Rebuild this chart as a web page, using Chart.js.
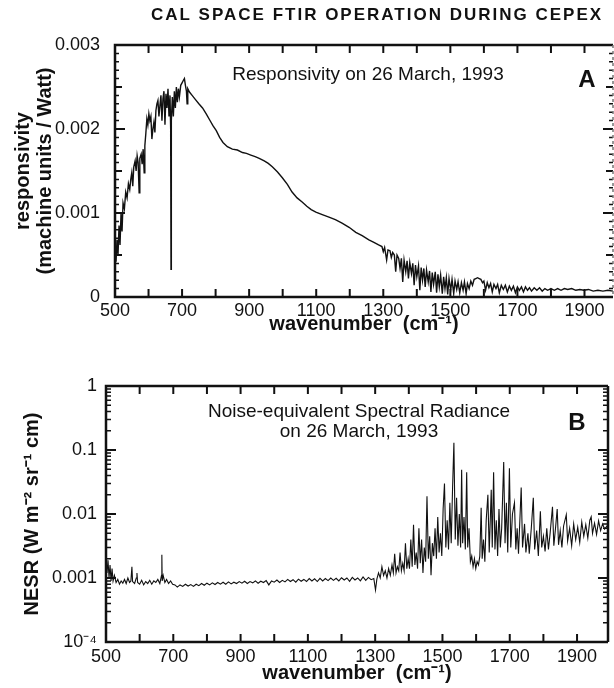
<!DOCTYPE html>
<html>
<head>
<meta charset="utf-8">
<title>CAL SPACE FTIR OPERATION DURING CEPEX</title>
<script src="https://cdn.jsdelivr.net/npm/chart.js@4.4.1/dist/chart.umd.min.js"></script>
<style>
  html, body { margin: 0; padding: 0; background: #fff; }
  canvas { display: block; }
</style>
</head>
<body>
<canvas id="chartA" width="614" height="340"></canvas>
<canvas id="chartB" width="614" height="348"></canvas>
<script>
// x axis: ticks every 100 cm-1, labels every 200
const xMajorTicks = [500, 600, 700, 800, 900, 1000, 1100, 1200, 1300, 1400, 1500, 1600, 1700, 1800, 1900];
const xLabelledTicks = [500, 700, 900, 1100, 1300, 1500, 1700, 1900];

// panel A tick labels
const yTicksA = [0, 0.001, 0.002, 0.003];
const yLabelsA = ['0', '0.001', '0.002', '0.003'];

// panel B tick labels (log axis)
const yTicksB = [0.0001, 0.001, 0.01, 0.1, 1];
const yLabelsB = ['10⁻⁴', '0.001', '0.01', '0.1', '1'];

// Panel A: responsivity
const respWavenumber = [
  500, 503, 506, 509, 512, 515, 518, 521, 524, 528,
  532, 536, 540, 544, 547, 550, 553, 556, 560, 563,
  566, 569, 572, 574, 578, 581, 584, 587, 589, 592,
  595, 598, 601, 604, 607, 610, 613, 616, 619, 622,
  625, 628, 631, 634, 637, 640, 643, 646, 649, 652,
  655, 658, 661, 664, 666, 667, 668, 671, 674, 677,
  680, 683, 686, 689, 692, 696, 700, 704, 707, 710,
  713, 715, 717, 722, 730, 740, 750, 761, 772, 782,
  792, 802, 812, 822, 835, 850, 865, 880, 892, 905,
  918, 930, 945, 957, 969, 984, 999, 1014, 1028, 1043,
  1058, 1072, 1085, 1099, 1118, 1138, 1157, 1177, 1198, 1218,
  1237, 1257, 1272, 1286, 1296, 1300, 1304, 1310, 1314, 1320,
  1324, 1328, 1333, 1337, 1341, 1346, 1350, 1354, 1358, 1362,
  1367, 1371, 1375, 1379, 1384, 1388, 1392, 1396, 1400, 1405,
  1409, 1413, 1417, 1421, 1425, 1429, 1434, 1438, 1442, 1446,
  1450, 1455, 1459, 1463, 1467, 1471, 1476, 1480, 1484, 1488,
  1492, 1496, 1501, 1505, 1510, 1514, 1519, 1523, 1528, 1533,
  1538, 1542, 1547, 1551, 1556, 1561, 1566, 1571, 1576, 1581,
  1586, 1591, 1596, 1600, 1605, 1610, 1615, 1620, 1625, 1630,
  1636, 1641, 1646, 1652, 1658, 1664, 1670, 1676, 1682, 1688,
  1694, 1700, 1706, 1712, 1718, 1724, 1730, 1736, 1742, 1750,
  1758, 1766, 1774, 1782, 1790, 1800, 1810, 1820, 1830, 1840,
  1850, 1862, 1874, 1886, 1898, 1912, 1926, 1940, 1955, 1970,
  1985
];
const responsivity = [
  0.00055, 0.00042, 0.00068, 0.00050, 0.00085, 0.00062, 0.00100, 0.00078, 0.00112, 0.00105,
  0.00125, 0.00118, 0.00135, 0.00128, 0.00140, 0.00148, 0.00132, 0.00155, 0.00162, 0.00150,
  0.00168, 0.00160, 0.00124, 0.00165, 0.00170, 0.00158, 0.00176, 0.00148, 0.00180, 0.00195,
  0.00212, 0.00205, 0.00218, 0.00210, 0.00215, 0.00188, 0.00200, 0.00208, 0.00196, 0.00222,
  0.00230, 0.00234, 0.00215, 0.00228, 0.00240, 0.00210, 0.00236, 0.00245, 0.00205, 0.00242,
  0.00225, 0.00248, 0.00215, 0.00240, 0.00200, 0.00033, 0.00210, 0.00238, 0.00215, 0.00245,
  0.00225, 0.00250, 0.00232, 0.00248, 0.00238, 0.00252, 0.00255, 0.00258, 0.00260, 0.00252,
  0.00245, 0.00230, 0.00248, 0.00244, 0.00240, 0.00235, 0.00230, 0.00225, 0.00218, 0.00211,
  0.00204, 0.00198, 0.00190, 0.00184, 0.00179, 0.00176, 0.00175, 0.00172, 0.00171, 0.00169,
  0.00167, 0.00165, 0.00162, 0.00159, 0.00155, 0.00149, 0.00142, 0.00134, 0.00125, 0.00118,
  0.00113, 0.00108, 0.00104, 0.00101, 0.00098, 0.00095, 0.00092, 0.00088, 0.00083, 0.00077,
  0.00073, 0.00068, 0.00065, 0.00062, 0.00060, 0.00054, 0.00059, 0.00044, 0.00056, 0.00055,
  0.00047, 0.00053, 0.00050, 0.00030, 0.00050, 0.00046, 0.00034, 0.00046, 0.00018, 0.00044,
  0.00030, 0.00043, 0.00022, 0.00041, 0.00028, 0.00040, 0.00014, 0.00038, 0.00024, 0.00037,
  0.00008, 0.00035, 0.00020, 0.00034, 0.00012, 0.00032, 0.00018, 0.00031, 0.00006, 0.00029,
  0.00015, 0.00030, 0.00005, 0.00027, 0.00012, 0.00026, 0.00004, 0.00024, 0.00010, 0.00023,
  0.00003, 0.00022, 0.00008, 0.00021, 0.00004, 0.00019, 0.00009, 0.00018, 0.00005, 0.00017,
  0.00008, 0.00018, 0.00004, 0.00016, 0.00010, 0.00019, 0.00014, 0.00021, 0.00022, 0.00023,
  0.00022, 0.00021, 0.00017, 0.00019, 0.00008, 0.00017, 0.00011, 0.00016, 0.00006, 0.00015,
  0.00010, 0.00015, 0.00005, 0.00014, 0.00009, 0.00014, 0.00006, 0.00013, 0.00008, 0.00013,
  0.00005, 0.00012, 0.00008, 0.00012, 0.00006, 0.00012, 0.00008, 0.00011, 0.00007, 0.00011,
  0.00008, 0.00011, 0.00007, 0.00010, 0.00008, 0.00010, 0.00008, 0.00010, 0.00008, 0.00010,
  0.00009, 0.00010, 0.00008, 0.00009, 0.00008, 0.00009, 0.00007, 0.00008, 0.00007, 0.00008,
  0.00007
];

// Panel B: noise-equivalent spectral radiance
const nesrWavenumber = [
  500, 503, 506, 509, 512, 515, 518, 521, 525, 530,
  535, 540, 545, 550, 555, 560, 565, 570, 574, 577,
  579, 585, 590, 592, 594, 600, 606, 612, 618, 624,
  630, 636, 642, 648, 654, 660, 665, 666, 667, 670,
  675, 680, 686, 692, 698, 705, 712, 720, 728, 736,
  744, 752, 760, 768, 776, 784, 792, 800, 808, 816,
  824, 832, 840, 848, 856, 864, 872, 880, 888, 896,
  904, 912, 920, 928, 936, 944, 952, 960, 968, 976,
  984, 992, 1000, 1008, 1016, 1024, 1032, 1040, 1048, 1056,
  1064, 1072, 1080, 1088, 1096, 1104, 1112, 1120, 1128, 1136,
  1144, 1152, 1160, 1168, 1176, 1184, 1192, 1200, 1208, 1216,
  1224, 1232, 1240, 1248, 1256, 1264, 1272, 1280, 1288, 1296,
  1301, 1305, 1310, 1315, 1320, 1325, 1330, 1335, 1340, 1345,
  1350, 1354, 1358, 1362, 1366, 1370, 1374, 1378, 1382, 1386,
  1390, 1394, 1398, 1402, 1406, 1410, 1414, 1418, 1422, 1426,
  1430, 1434, 1438, 1442, 1446, 1450, 1454, 1458, 1462, 1466,
  1470, 1474, 1478, 1482, 1486, 1490, 1494, 1498, 1502, 1506,
  1510, 1514, 1518, 1522, 1526, 1530, 1534, 1538, 1542, 1546,
  1550, 1554, 1557, 1560, 1564, 1568, 1572, 1575, 1579, 1583,
  1587, 1591, 1595, 1599, 1603, 1607, 1611, 1615, 1618, 1622,
  1626, 1630, 1635, 1639, 1645, 1648, 1652, 1656, 1660, 1664,
  1668, 1672, 1676, 1682, 1686, 1690, 1694, 1699, 1703, 1708,
  1714, 1718, 1722, 1726, 1734, 1738, 1744, 1748, 1754, 1758,
  1764, 1770, 1774, 1780, 1785, 1791, 1795, 1800, 1805, 1810,
  1815, 1820, 1827, 1831, 1836, 1841, 1845, 1850, 1855, 1860,
  1868, 1872, 1878, 1884, 1890, 1896, 1902, 1908, 1914, 1920,
  1926, 1932, 1938, 1942, 1946, 1952, 1958, 1964, 1970, 1976,
  1982, 1990
];
const nesr = [
  0.0020, 0.0012, 0.0019, 0.0010, 0.0016, 0.0009, 0.0014, 0.0009, 0.0011, 0.00085,
  0.00095, 0.0008, 0.0009, 0.00083, 0.00095, 0.00082, 0.0010, 0.00085, 0.0009, 0.0015,
  0.00088, 0.00082, 0.0010, 0.0012, 0.00085, 0.0008, 0.00092, 0.00078, 0.00088, 0.00082,
  0.00092, 0.0008, 0.0009, 0.00085, 0.00095, 0.00082, 0.0011, 0.0023, 0.0009, 0.0011,
  0.00085, 0.00095, 0.00082, 0.0009, 0.0008, 0.00078, 0.00072, 0.00078, 0.00074, 0.0008,
  0.00075, 0.00079, 0.00074, 0.0008, 0.00076, 0.00082, 0.00077, 0.00083, 0.00078, 0.00084,
  0.00079, 0.00085, 0.0008, 0.00086, 0.0008, 0.00087, 0.00081, 0.00086, 0.00082, 0.00088,
  0.00083, 0.00089, 0.00082, 0.00088, 0.00084, 0.0009, 0.00083, 0.00089, 0.00085, 0.00091,
  0.00078, 0.0009, 0.00086, 0.00093, 0.00085, 0.00092, 0.00087, 0.00095, 0.00088, 0.00094,
  0.00086, 0.00096, 0.00089, 0.00095, 0.00088, 0.00098, 0.0009, 0.00097, 0.00088, 0.00099,
  0.0009, 0.00098, 0.00091, 0.001, 0.00092, 0.00099, 0.0009, 0.00101, 0.00093, 0.001,
  0.00089, 0.00102, 0.00093, 0.001, 0.0009, 0.00104, 0.00092, 0.00102, 0.00094, 0.00098,
  0.00065, 0.00096, 0.0012, 0.001, 0.0015, 0.0011, 0.0013, 0.001, 0.0014, 0.0011,
  0.0016, 0.0012, 0.0024, 0.0012, 0.0015, 0.0013, 0.0025, 0.0013, 0.0017, 0.0013,
  0.0035, 0.0014, 0.0020, 0.0014, 0.0040, 0.0015, 0.0068, 0.0016, 0.0025, 0.0014,
  0.0060, 0.0017, 0.0040, 0.0012, 0.0030, 0.0018, 0.019, 0.0020, 0.0045, 0.0011,
  0.0035, 0.0022, 0.0060, 0.0020, 0.0090, 0.0025, 0.0050, 0.0022, 0.012, 0.030,
  0.0030, 0.0080, 0.0028, 0.015, 0.0035, 0.025, 0.13, 0.0040, 0.018, 0.0032,
  0.010, 0.0030, 0.049, 0.0035, 0.0090, 0.0028, 0.045, 0.0030, 0.0060, 0.0018,
  0.0022, 0.0015, 0.0020, 0.0014, 0.0018, 0.0016, 0.0022, 0.0125, 0.0020, 0.0040,
  0.0018, 0.0080, 0.020, 0.0025, 0.024, 0.0030, 0.045, 0.0028, 0.0080, 0.0022,
  0.012, 0.0030, 0.0060, 0.065, 0.0035, 0.015, 0.0025, 0.052, 0.0030, 0.010,
  0.015, 0.0028, 0.0060, 0.0024, 0.026, 0.0030, 0.0070, 0.0025, 0.0050, 0.0024,
  0.0060, 0.018, 0.0028, 0.0055, 0.0022, 0.011, 0.0030, 0.0045, 0.0026, 0.0060,
  0.0028, 0.0050, 0.013, 0.0032, 0.0060, 0.012, 0.0033, 0.0055, 0.0030, 0.0065,
  0.0097, 0.0038, 0.0060, 0.0032, 0.0070, 0.0040, 0.0062, 0.0036, 0.0075, 0.0045,
  0.0068, 0.0042, 0.0080, 0.0090, 0.0050, 0.0072, 0.0048, 0.0078, 0.0055, 0.0070,
  0.0058, 0.0066
];

Chart.defaults.font.family = "'Liberation Sans', Arial, Helvetica, sans-serif";
Chart.defaults.color = '#111';
Chart.defaults.animation = false;

// inward tick marks on all four sides + the box
function frameTicks(yMarks, rightDashed) {
  return {
    id: 'frameTicks',
    afterDraw(chart) {
      const { ctx, chartArea: a } = chart;
      const x = chart.scales.x;
      const y = chart.scales.y;
      ctx.save();
      ctx.strokeStyle = '#111';

      ctx.lineWidth = 2;
      ctx.beginPath();
      xMajorTicks.forEach(v => {
        const px = x.getPixelForValue(v);
        ctx.moveTo(px, a.bottom); ctx.lineTo(px, a.bottom - 8);
        ctx.moveTo(px, a.top); ctx.lineTo(px, a.top + 8);
      });
      yMarks.filter(m => m[1] >= 7).forEach(([v, len]) => {
        const py = y.getPixelForValue(v);
        ctx.moveTo(a.left, py); ctx.lineTo(a.left + len, py);
        ctx.moveTo(a.right, py); ctx.lineTo(a.right - len, py);
      });
      ctx.stroke();

      ctx.lineWidth = 1.5;
      ctx.beginPath();
      yMarks.filter(m => m[1] < 7).forEach(([v, len]) => {
        const py = y.getPixelForValue(v);
        ctx.moveTo(a.left, py); ctx.lineTo(a.left + len, py);
        ctx.moveTo(a.right, py); ctx.lineTo(a.right - len, py);
      });
      ctx.stroke();

      ctx.lineWidth = 2.5;
      ctx.beginPath();
      ctx.moveTo(a.right, a.top);
      ctx.lineTo(a.left, a.top);
      ctx.lineTo(a.left, a.bottom);
      ctx.lineTo(a.right, a.bottom);
      ctx.stroke();

      ctx.beginPath();
      if (rightDashed) {
        ctx.lineWidth = 1.5;
        ctx.strokeStyle = '#777';
        ctx.setLineDash([3, 3]);
      }
      ctx.moveTo(a.right, a.top);
      ctx.lineTo(a.right, a.bottom);
      ctx.stroke();
      ctx.restore();
    }
  };
}

// free text inside / above the panels
function panelText(items) {
  return {
    id: 'panelText',
    afterDraw(chart) {
      const ctx = chart.ctx;
      ctx.save();
      ctx.fillStyle = '#111';
      ctx.textBaseline = 'alphabetic';
      items.forEach(t => {
        ctx.font = t.font;
        ctx.textAlign = t.align || 'center';
        ctx.letterSpacing = t.spacing || '0px';
        ctx.fillText(t.text, t.x, t.y);
      });
      ctx.restore();
    }
  };
}

// tick mark lists (value, length)
const marksA = [];
for (let k = 0; k <= 30; k++) {
  marksA.push([k / 10000, k % 10 === 0 ? 10 : (k % 5 === 0 ? 7 : 4)]);
}
const marksB = [[1, 10]];
for (let d = -4; d < 0; d++) {
  for (let m = 1; m <= 9; m++) {
    marksB.push([m * Math.pow(10, d), m === 1 ? 10 : 5]);
  }
}

const tickFont = { size: 18 };
const titleFont = { size: 20, weight: 'bold', lineHeight: 1.1 };

function xScale(max, height, labelPad, titlePad) {
  return {
    type: 'linear',
    min: 500,
    max: max,
    afterBuildTicks: s => { s.ticks = xMajorTicks.map(v => ({ value: v })); },
    afterFit: s => { s.height = height; },
    grid: { display: false, drawTicks: false },
    border: { display: false },
    ticks: {
      autoSkip: false,
      maxRotation: 0,
      padding: labelPad,
      font: tickFont,
      callback: v => xLabelledTicks.includes(v) ? String(v) : ''
    },
    title: {
      display: true,
      text: 'wavenumber  (cm⁻¹)',
      font: titleFont,
      padding: { top: 0, bottom: titlePad }
    }
  };
}

new Chart(document.getElementById('chartA'), {
  type: 'line',
  data: {
    datasets: [{
      data: respWavenumber.map((w, i) => ({ x: w, y: responsivity[i] })),
      borderColor: '#111',
      borderWidth: 1.4,
      pointRadius: 0,
      tension: 0,
      fill: false
    }]
  },
  options: {
    responsive: false,
    layout: { padding: { top: 45, right: 1, left: 0, bottom: 0 } },
    plugins: { legend: { display: false }, tooltip: { enabled: false } },
    scales: {
      x: xScale(1985, 43, 3, 5),
      y: {
        min: 0,
        max: 0.003,
        afterBuildTicks: s => { s.ticks = yTicksA.map(v => ({ value: v })); },
        afterFit: s => { s.width = 115; },
        grid: { display: false, drawTicks: false },
        border: { display: false },
        ticks: { padding: 15, font: tickFont, callback: (v, i) => yLabelsA[i] },
        title: {
          display: true,
          text: ['responsivity', '(machine units / Watt)'],
          font: titleFont,
          padding: { top: 12, bottom: 0 }
        }
      }
    }
  },
  plugins: [
    frameTicks(marksA, true),
    panelText([
      { text: 'CAL SPACE FTIR OPERATION DURING CEPEX', x: 377, y: 20, font: 'bold 17px "Liberation Sans", Arial, sans-serif', spacing: '2px' },
      { text: 'Responsivity on 26 March, 1993', x: 368, y: 80, font: '19px "Liberation Sans", Arial, sans-serif' },
      { text: 'A', x: 587, y: 87, font: 'bold 24px "Liberation Sans", Arial, sans-serif' }
    ])
  ]
});

new Chart(document.getElementById('chartB'), {
  type: 'line',
  data: {
    datasets: [{
      data: nesrWavenumber.map((w, i) => ({ x: w, y: nesr[i] })),
      borderColor: '#111',
      borderWidth: 1.1,
      pointRadius: 0,
      tension: 0,
      fill: false
    }]
  },
  options: {
    responsive: false,
    layout: { padding: { top: 46, right: 6, left: 0, bottom: 0 } },
    plugins: { legend: { display: false }, tooltip: { enabled: false } },
    scales: {
      x: xScale(1992, 46, 4, 4),
      y: {
        type: 'logarithmic',
        min: 0.0001,
        max: 1,
        afterBuildTicks: s => { s.ticks = yTicksB.map(v => ({ value: v })); },
        afterFit: s => { s.width = 106; },
        grid: { display: false, drawTicks: false },
        border: { display: false },
        ticks: { padding: 9, font: tickFont, callback: (v, i) => yLabelsB[i] },
        title: {
          display: true,
          text: 'NESR (W m⁻² sr⁻¹ cm)',
          font: titleFont,
          padding: { top: 21, bottom: 0 }
        }
      }
    }
  },
  plugins: [
    frameTicks(marksB, false),
    panelText([
      { text: 'Noise-equivalent Spectral Radiance', x: 359, y: 77, font: '19px "Liberation Sans", Arial, sans-serif' },
      { text: 'on 26 March, 1993', x: 359, y: 97, font: '19px "Liberation Sans", Arial, sans-serif' },
      { text: 'B', x: 577, y: 90, font: 'bold 24px "Liberation Sans", Arial, sans-serif' }
    ])
  ]
});
</script>
</body>
</html>
